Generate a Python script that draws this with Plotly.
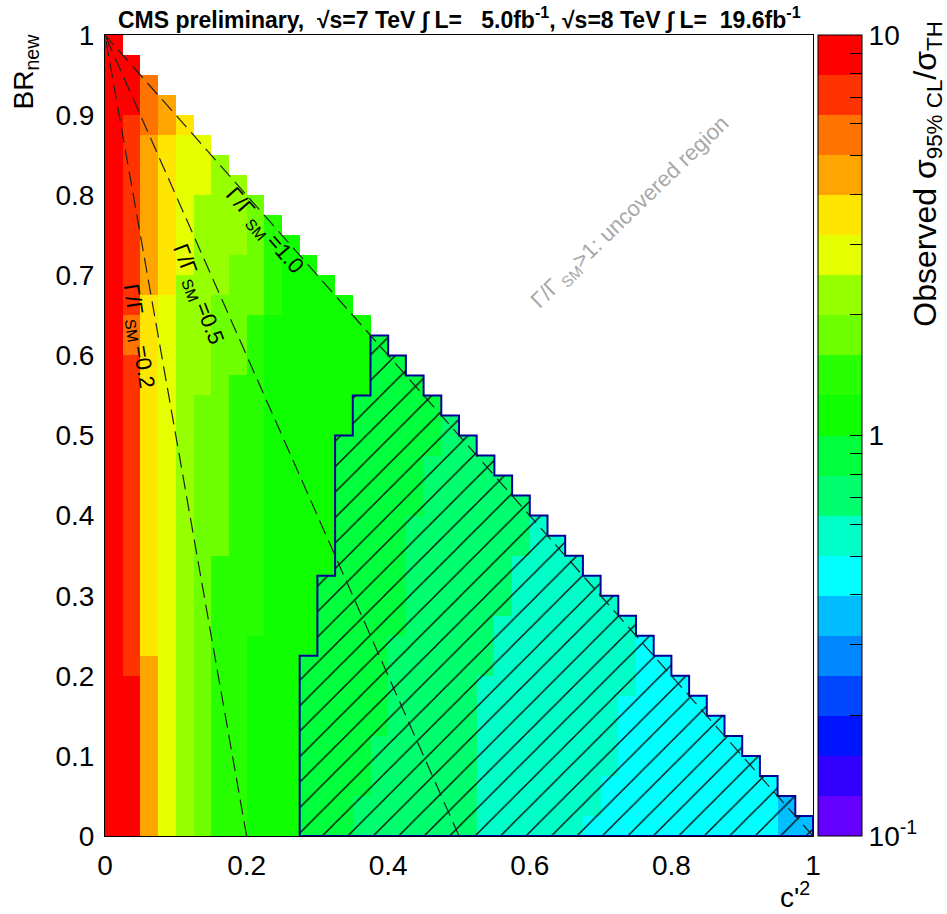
import numpy as np
import plotly.graph_objects as go

# ---------------- data ----------------
c2_edges = np.linspace(0.0, 1.0, 41)     # c'^2 bin edges
br_edges = np.linspace(0.0, 1.0, 41)     # BR_new bin edges

# observed sigma_95%CL / sigma_TH for each c'^2 column:
# list of (BR_new lower edge where the value starts, value)
col_values = [
    [(0.0, 8.9)],
    [(0.0, 8.9), (0.2, 7.1), (0.6, 5.6), (0.65, 7.1), (0.9, 8.9)],
    [(0.0, 4.5), (0.225, 3.5), (0.675, 4.5), (0.875, 5.6)],
    [(0.0, 2.8), (0.675, 3.5), (0.875, 4.5)],
    [(0.0, 2.2), (0.7, 2.8), (0.875, 3.5)],
    [(0.0, 1.8), (0.55, 2.2), (0.8, 2.8)],
    [(0.0, 1.4), (0.35, 1.8), (0.675, 2.2)],
    [(0.0, 1.4), (0.575, 1.8), (0.725, 2.2)],
    [(0.0, 1.1), (0.25, 1.4), (0.65, 1.8)],
    [(0.0, 1.1), (0.65, 1.4)],
    [(0.0, 1.1)],
    [(0.0, 0.89), (0.225, 1.1)],
    [(0.0, 0.89), (0.325, 1.1)],
    [(0.0, 0.89), (0.5, 1.1)],
    [(0.0, 0.71), (0.05, 0.89), (0.55, 1.1)],
    [(0.0, 0.71), (0.125, 0.89)],
    [(0.0, 0.71), (0.25, 0.89)],
    [(0.0, 0.71), (0.4, 0.89)],
    [(0.0, 0.71), (0.475, 0.89)],
    [(0.0, 0.71)],
    [(0.0, 0.71)],
    [(0.0, 0.56), (0.2, 0.71)],
    [(0.0, 0.56), (0.275, 0.71)],
    [(0.0, 0.56), (0.35, 0.71)],
    [(0.0, 0.56)],
    [(0.0, 0.56)],
    [(0.0, 0.56)],
    [(0.0, 0.45), (0.025, 0.56)],
    [(0.0, 0.45), (0.075, 0.56)],
    [(0.0, 0.45), (0.175, 0.56)],
    [(0.0, 0.45)],
    [(0.0, 0.45)],
    [(0.0, 0.45)],
    [(0.0, 0.45)],
    [(0.0, 0.45)],
    [(0.0, 0.45)],
    [(0.0, 0.45)],
    [(0.0, 0.45)],
    [(0.0, 0.35)],
    [(0.0, 0.35)],
]

gamma_ratios = [0.2, 0.5, 1.0]          # Gamma/Gamma_SM contours
x_ticks = [0, 0.2, 0.4, 0.6, 0.8, 1]
x_ticktext = ["0", "0.2", "0.4", "0.6", "0.8", "1"]
y_ticks = [0, 0.1, 0.2, 0.3, 0.4, 0.5, 0.6, 0.7, 0.8, 0.9, 1]
y_ticktext = ["0", "0.1", "0.2", "0.3", "0.4", "0.5", "0.6", "0.7", "0.8", "0.9", "1"]

# ---------------- build grid ----------------
nx = len(c2_edges) - 1
ny = len(br_edges) - 1
xc = 0.5 * (c2_edges[:-1] + c2_edges[1:])
yc = 0.5 * (br_edges[:-1] + br_edges[1:])
val = np.full((ny, nx), np.nan)
for i, runs in enumerate(col_values):
    for j in range(ny):
        if c2_edges[i] + br_edges[j] > 1.0 - 1e-9:
            continue  # outside physical region (Gamma/Gamma_SM > 1)
        v = None
        for (b0, vv) in runs:
            if br_edges[j] >= b0 - 1e-9:
                v = vv
        val[j, i] = v
z = np.log10(val)
zlist = [[None if np.isnan(a) else float(a) for a in row] for row in z]

# ROOT-like rainbow palette with 20 contour levels (bottom -> top)
pal = ["#6400ff", "#3200ff", "#0014ff", "#0046ff", "#0087ff",
       "#00beff", "#00ffff", "#00ffc8", "#00ff6e", "#00ff3c",
       "#0fff00", "#28ff00", "#6eff00", "#96ff00", "#e6ff00",
       "#ffe600", "#ffa500", "#ff7300", "#ff3300", "#ff0000"]
cs = []
n = len(pal)
for k, c in enumerate(pal):
    cs.append([k / n, c])
    cs.append([(k + 1) / n, c])

# colorbar ticks (log)
cb_vals, cb_text = [], []
for dec in [-1, 0]:
    for m in range(1, 10):
        cb_vals.append(dec + np.log10(m))
        cb_text.append({-1: "10<sup>-1</sup>", 0: "1"}[dec] if m == 1 else "")
cb_vals.append(1.0)
cb_text.append("10")

FONT = "Liberation Sans, Arial, sans-serif"

fig = go.Figure()
fig.add_trace(go.Heatmap(
    x=xc, y=yc, z=zlist, zmin=-1, zmax=1, colorscale=cs,
    hoverongaps=False,
    colorbar=dict(
        x=1.007, xanchor="left", xpad=0, y=0.5, yanchor="middle", ypad=0,
        len=1.0, lenmode="fraction", thickness=44,
        outlinewidth=1, outlinecolor="black",
        tickmode="array", tickvals=cb_vals, ticktext=cb_text,
        ticks="inside", ticklen=12, tickcolor="black", tickwidth=1,
        tickfont=dict(family=FONT, size=28, color="black"),
    ),
))

# hatched region: cells with observed/theory < 1
px, py = [], []
starts, ends, rows = [], [], []
for j in range(ny):
    idx = [i for i in range(nx) if not np.isnan(val[j, i]) and val[j, i] < 1.0]
    if idx:
        rows.append(j)
        starts.append(c2_edges[min(idx)])
        ends.append(c2_edges[max(idx) + 1])
for j, e in zip(rows, ends):
    px += [e, e]
    py += [br_edges[j], br_edges[j + 1]]
for j, s in zip(rows[::-1], starts[::-1]):
    px += [s, s]
    py += [br_edges[j + 1], br_edges[j]]
px.append(px[0]); py.append(py[0])
fig.add_trace(go.Scatter(
    x=px, y=py, mode="lines", fill="toself",
    fillcolor="rgba(0,0,0,0)",
    fillpattern=dict(shape="/", size=18, solidity=0.07, fgcolor="black",
                     bgcolor="rgba(0,0,0,0)", fgopacity=1),
    line=dict(color="#000099", width=2), hoverinfo="skip", showlegend=False,
))

# Gamma/Gamma_SM dashed contours
br_line = np.linspace(0, 1, 101)
for r in gamma_ratios:
    fig.add_trace(go.Scatter(
        x=r * (1 - br_line), y=br_line, mode="lines",
        line=dict(color="#222222", width=1.2, dash="15px,7px"),
        hoverinfo="skip", showlegend=False,
    ))

ann = []
def a(text, x, y, size, angle=0, color="black", xref="x", yref="y",
      xanchor="center", yanchor="middle"):
    ann.append(dict(text=text, x=x, y=y, xref=xref, yref=yref,
                    showarrow=False, textangle=angle,
                    xanchor=xanchor, yanchor=yanchor,
                    font=dict(family=FONT, size=size, color=color)))

a("Γ/Γ<sub> SM </sub>=0.2", 0.046, 0.624, 22, 81)
a("Γ/Γ<sub> SM </sub>=0.5", 0.131, 0.676, 22, 69)
a("Γ/Γ<sub> SM </sub>=1.0", 0.224, 0.755, 22, 49)
a("Γ/Γ<sub> SM</sub>&gt;1: uncovered region", 0.742, 0.778, 22, -44, color="#a8a8a8")

nb = "\u00a0"
title = ("<b>CMS preliminary," + nb * 2 + "√s=7 TeV ∫ L=" + nb * 3 + "5.0fb<sup>-1</sup>, "
         "√s=8 TeV ∫ L=" + nb * 2 + "19.6fb<sup>-1</sup></b>")
a(title, 0.5, 1.021, 23, 0, xref="paper", yref="paper")
a("BR<sub>new</sub>", -0.112, 1.004, 28, -90, xref="paper", yref="paper",
  yanchor="top")
a("c'<sup>2</sup>", 0.999, -0.074, 28, 0, xref="paper", yref="paper",
  xanchor="right")
a("Observed σ<sub>95% CL</sub>/σ<sub>TH</sub>", 1.162, 1.02, 32, -90,
  xref="paper", yref="paper", yanchor="top")

axis_common = dict(range=[0, 1], showgrid=False, zeroline=False,
                   showline=True, mirror=True, linecolor="black", linewidth=1,
                   ticks="", tickfont=dict(family=FONT, size=28, color="black"),
                   tickmode="array")
fig.update_layout(
    width=947, height=914,
    margin=dict(l=105, r=134, t=35, b=78, pad=0),
    paper_bgcolor="white", plot_bgcolor="white",
    xaxis=dict(**axis_common, tickvals=x_ticks, ticktext=x_ticktext,
               ticklabelstandoff=4),
    yaxis=dict(**axis_common, tickvals=y_ticks, ticktext=y_ticktext,
               ticklabelstandoff=4),
    annotations=ann, showlegend=False,
)
fig.write_html("out.html")
